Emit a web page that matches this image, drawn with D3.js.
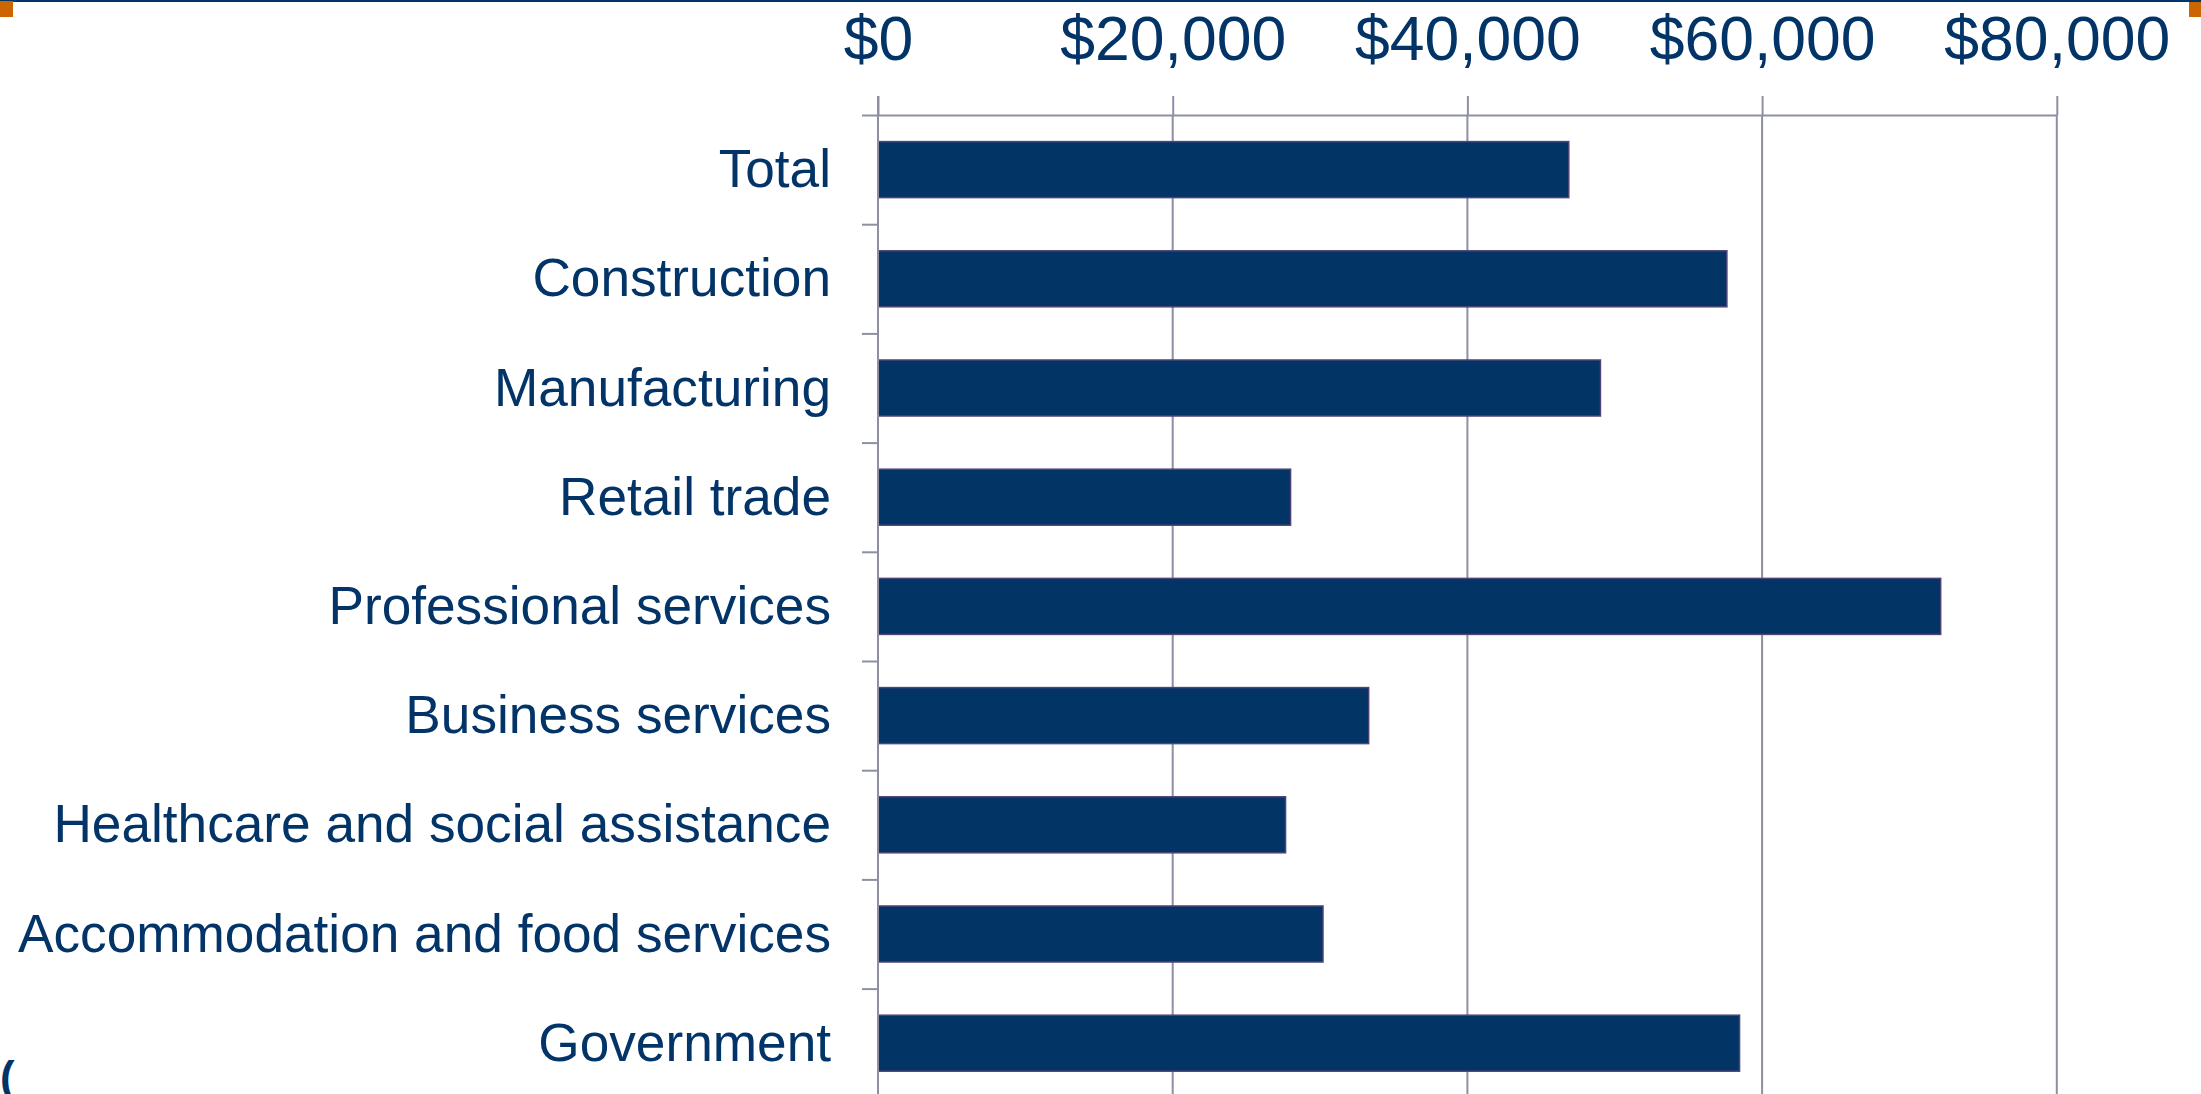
<!DOCTYPE html>
<html>
<head>
<meta charset="utf-8">
<script src="https://cdn.jsdelivr.net/npm/d3@7"></script>
<style>
  html, body { margin: 0; padding: 0; background: #ffffff; overflow: hidden; }
  svg { display: block; }
  text { font-family: "Liberation Sans", Arial, sans-serif; }
</style>
</head>
<body>
<svg id="chart" width="2201" height="1094"></svg>
<script>
const categories = [
  "Total",
  "Construction",
  "Manufacturing",
  "Retail trade",
  "Professional services",
  "Business services",
  "Healthcare and social assistance",
  "Accommodation and food services",
  "Government"
];
const wages = [46880, 57610, 49030, 28000, 72120, 33300, 27660, 30200, 58470];
const xTicks = [0, 20000, 40000, 60000, 80000];
const xDomain = [0, 80000];

(function () {
const W = 2201, H = 1094;
const plotLeft = 878, plotRight = 2056.8, plotTop = 115, plotBottom = 1097.8;
const textColor = "#033468";
const barFill = "#033466";
const barStroke = "#4e4478";
const gridColor = "#8d90a3";

const svg = d3.select("#chart");

// decorations
svg.append("rect").attr("x", 0).attr("y", 0).attr("width", W).attr("height", 2).attr("fill", "#003366");
svg.append("rect").attr("x", 0).attr("y", 1).attr("width", 13).attr("height", 16).attr("fill", "#cc6600");
svg.append("rect").attr("x", 2189).attr("y", 2).attr("width", 12).attr("height", 15).attr("fill", "#cc6600");

const x = d3.scaleLinear().domain(xDomain).range([plotLeft, plotRight]);
const y = d3.scaleBand().domain(categories).range([plotTop, plotBottom]).paddingInner(0.487).paddingOuter(0.2435);
const yIdx = d3.scaleLinear().domain([0, categories.length]).range([plotTop, plotBottom]);

// vertical gridlines
svg.append("g").selectAll("line").data(xTicks).join("line")
  .attr("x1", d => x(d)).attr("x2", d => x(d))
  .attr("y1", plotTop).attr("y2", H)
  .attr("stroke", gridColor).attr("stroke-width", 2);

// bars
svg.append("g").selectAll("rect").data(categories).join("rect")
  .attr("x", x(0))
  .attr("y", d => y(d))
  .attr("width", (d, i) => x(wages[i]) - x(0))
  .attr("height", y.bandwidth())
  .attr("fill", barFill)
  .attr("stroke", barStroke)
  .attr("stroke-width", 1.5);

// top axis
const xAxis = d3.axisTop(x)
  .tickValues(xTicks)
  .tickFormat(d => "$" + d3.format(",")(d))
  .tickSize(19)
  .tickSizeOuter(0)
  .tickPadding(36);
const gx = svg.append("g").attr("transform", `translate(0,${plotTop})`).call(xAxis);
gx.select(".domain").attr("stroke", gridColor).attr("stroke-width", 2);
gx.selectAll(".tick line").attr("stroke", gridColor).attr("stroke-width", 2);
gx.selectAll(".tick text")
  .attr("fill", textColor)
  .style("font-size", "62.5px")
  .style("font-family", "'Liberation Sans', Arial, sans-serif");

// left axis ticks at band boundaries
const yTickAxis = d3.axisLeft(yIdx)
  .tickValues(d3.range(0, categories.length + 1))
  .tickFormat("")
  .tickSize(16)
  .tickSizeOuter(0);
const gyt = svg.append("g").attr("transform", `translate(${plotLeft},0)`).call(yTickAxis);
gyt.select(".domain").remove();
gyt.selectAll(".tick line").attr("stroke", gridColor).attr("stroke-width", 2);

// left axis line
svg.append("line")
  .attr("x1", plotLeft).attr("x2", plotLeft)
  .attr("y1", plotTop - 19).attr("y2", H)
  .attr("stroke", gridColor).attr("stroke-width", 2);

// category labels
const yAxis = d3.axisLeft(y).tickSize(0).tickPadding(47);
const gy = svg.append("g").attr("transform", `translate(${plotLeft},0)`).call(yAxis);
gy.select(".domain").remove();
gy.selectAll(".tick text")
  .attr("fill", textColor)
  .attr("dy", "0.33em")
  .style("font-size", "53.2px")
  .style("font-family", "'Liberation Sans', Arial, sans-serif");

// partial glyph at bottom-left
svg.append("text")
  .attr("x", 0).attr("y", 1092)
  .attr("fill", textColor)
  .style("font-size", "44px")
  .style("font-weight", "bold")
  .text("(");
})();
</script>
</body>
</html>
